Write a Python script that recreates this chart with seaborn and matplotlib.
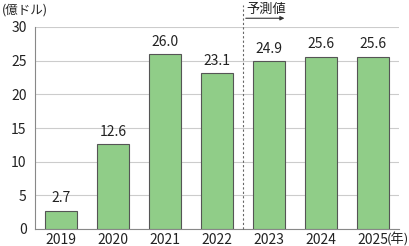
import matplotlib
matplotlib.use("Agg")
import matplotlib.pyplot as plt
import seaborn as sns
import pandas as pd

years = ["2019", "2020", "2021", "2022", "2023", "2024", "2025"]
values = [2.7, 12.6, 26.0, 23.1, 24.9, 25.6, 25.6]
yticks = [0, 5, 10, 15, 20, 25, 30]

sns.set_style("white")
plt.rcParams['font.family'] = ['Noto Sans CJK JP', 'DejaVu Sans']

df = pd.DataFrame({"year": years, "value": values})

fig = plt.figure(figsize=(4.09, 2.46), dpi=100)
ax = fig.add_axes([35/409, 1-229/246, 364/409, 202/246])
sns.barplot(data=df, x="year", y="value", color="#90cd88", edgecolor="#555555",
            linewidth=0.8, width=0.63, saturation=1, ax=ax, zorder=3)

ax.set_ylim(0, 30)
ax.set_xlim(-0.5, 6.5)
ax.set_yticks(yticks)
ax.yaxis.grid(True, color="#cccccc", linewidth=0.8, zorder=0)
ax.set_axisbelow(True)
ax.set_xlabel("")
ax.set_ylabel("")
for s in ["top", "right"]:
    ax.spines[s].set_visible(False)
for s in ["left", "bottom"]:
    ax.spines[s].set_color("#888888")
    ax.spines[s].set_linewidth(0.8)
ax.tick_params(axis="y", length=0, labelsize=10, pad=6, colors="#222222")
ax.tick_params(axis="x", length=0, labelsize=10, pad=3, colors="#222222")
# boundary ticks pointing up
ax.set_xticks([i + 0.5 for i in range(len(years))], minor=True)
ax.tick_params(axis="x", which="minor", direction="in", length=4, color="#888888", width=0.8)

for i, v in enumerate(values):
    ax.text(i, v + 0.8, f"{v:.1f}", ha="center", va="bottom", fontsize=10, color="#222222")

# forecast divider
ax.plot([3.5, 3.5], [0, 33.2], linestyle=(0, (2, 2)), color="#666666", linewidth=0.8,
        clip_on=False, zorder=4)
ax.annotate("", xy=(4.35, 31.3), xytext=(3.5, 31.3),
            arrowprops=dict(arrowstyle="-|>", color="#333333", lw=0.8, mutation_scale=6),
            annotation_clip=False)
ax.text(3.57, 31.6, "予測値", ha="left", va="bottom", fontsize=9.5, color="#222222")

fig.text(2/409, 1-17/246, "(億ドル)", ha="left", va="bottom", fontsize=9, color="#222222")
fig.text(387/409, 1-239/246, "(年)", ha="left", va="center", fontsize=9.5, color="#222222")

fig.savefig("out.png", dpi=100)
